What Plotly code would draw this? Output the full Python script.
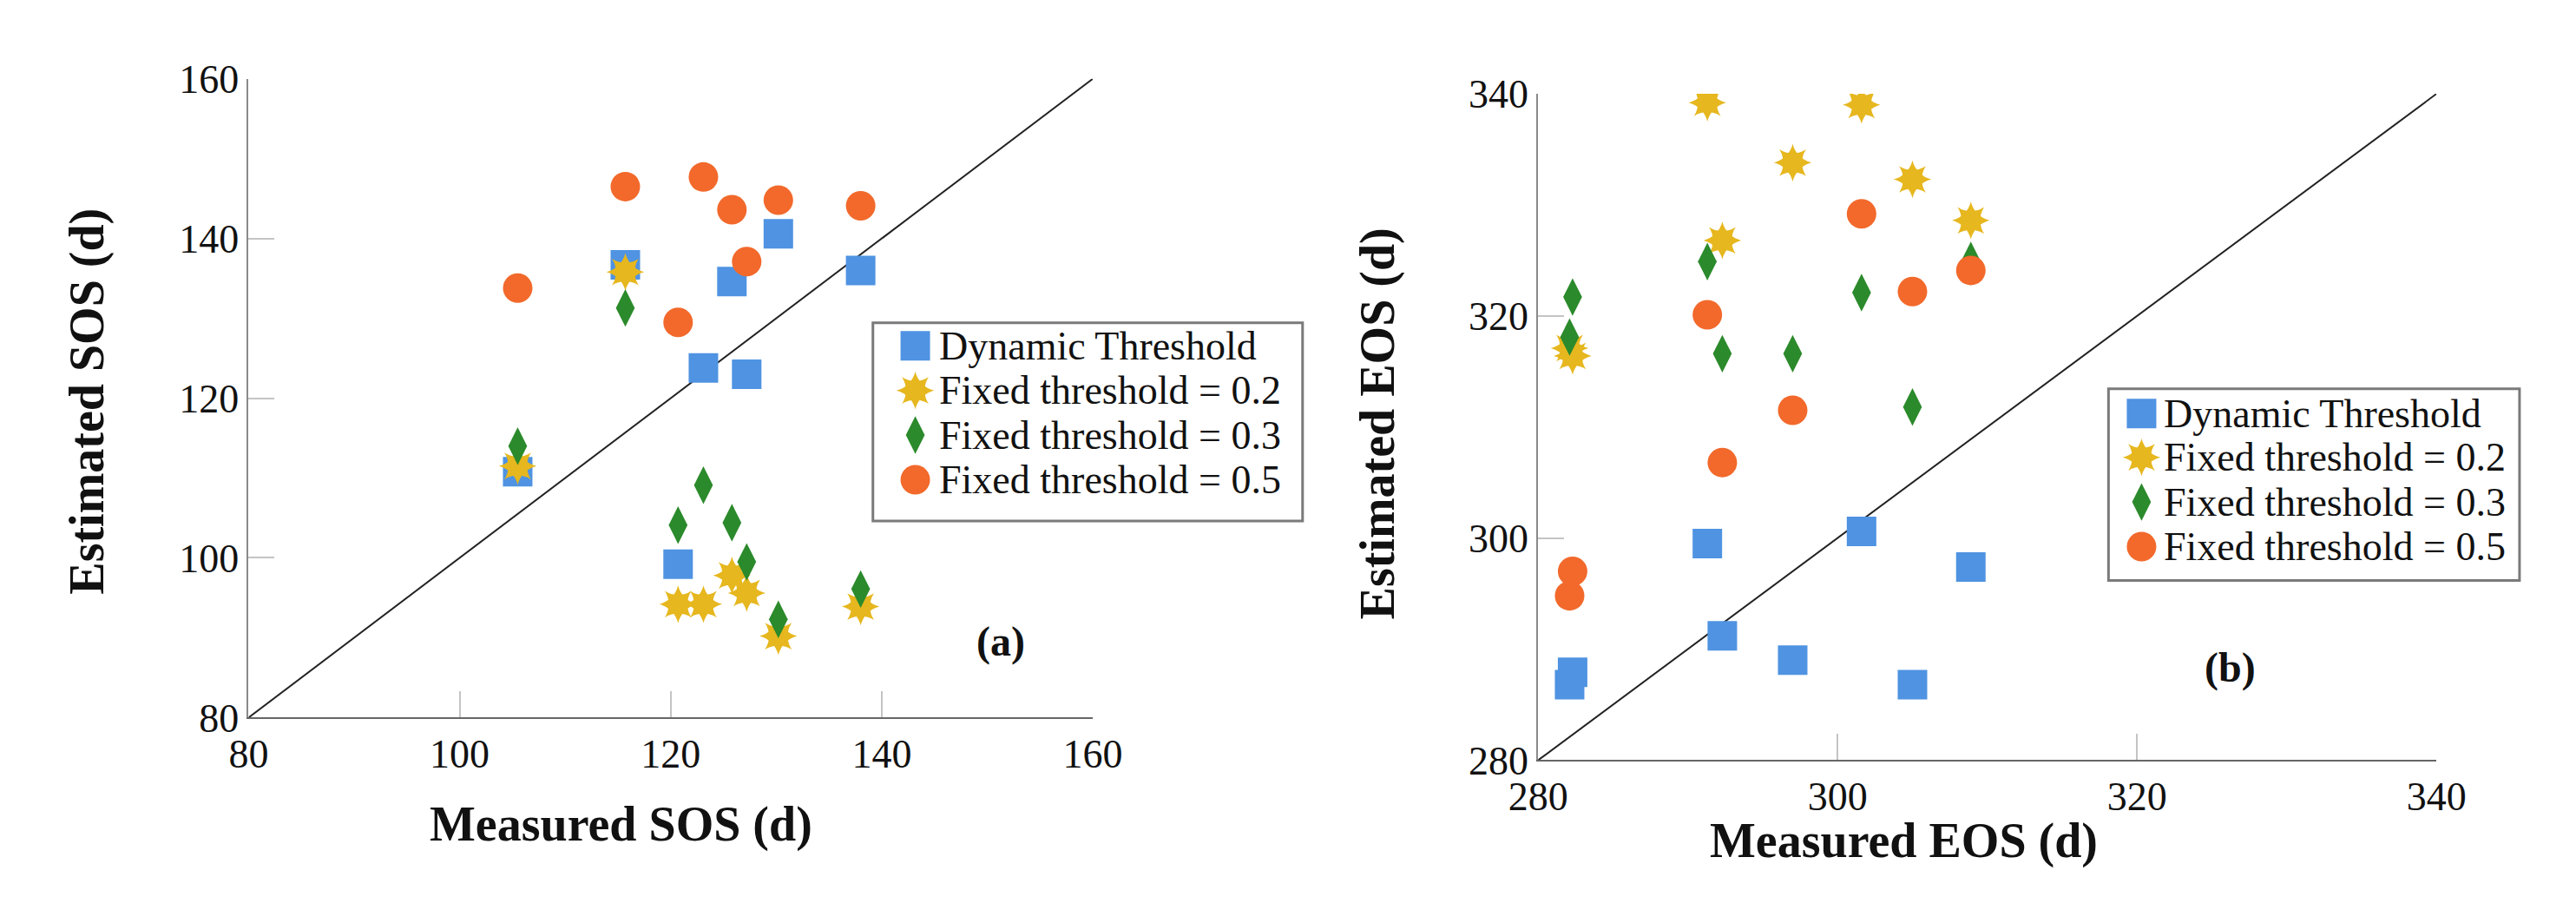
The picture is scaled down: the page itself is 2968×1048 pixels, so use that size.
import plotly.graph_objects as go

# measured dates (8 sites)
sos_measured = [105.5, 115.7, 120.7, 123.1, 125.8, 127.2, 130.2, 138.0]
sos_dynamic = [110.8, 136.7, 99.2, 123.8, 134.6, 123.0, 140.6, 136.0]
sos_fixed02 = [111.5, 135.8, 94.2, 94.2, 97.8, 95.6, 90.2, 93.9]
sos_fixed03 = [114.0, 131.3, 104.1, 109.1, 104.4, 99.5, 92.3, 96.1]
sos_fixed05 = [133.8, 146.5, 129.5, 147.7, 143.6, 137.1, 144.8, 144.1]

eos_measured = [282.1, 282.3, 291.3, 292.3, 297.0, 301.6, 305.0, 308.9]
eos_dynamic = [286.8, 287.9, 299.5, 291.2, 289.0, 300.6, 286.8, 297.4]
eos_fixed02 = [317.1, 316.4, 339.2, 326.8, 333.8, 339.0, 332.3, 328.6]
eos_fixed03 = [318.1, 321.7, 324.9, 316.6, 316.6, 322.1, 311.8, 325.0]
eos_fixed05 = [294.8, 297.0, 320.1, 306.8, 311.5, 329.2, 322.2, 324.1]

series_names = ["Dynamic Threshold", "Fixed threshold = 0.2",
                "Fixed threshold = 0.3", "Fixed threshold = 0.5"]
sos_ticks = [80, 100, 120, 140, 160]
eos_ticks = [280, 300, 320, 340]

W, H = 2968, 1048
FONT = "Liberation Serif"
colors = ["#4f93e2", "#e6b71e", "#2b8a2b", "#f2692b"]

# symbol styles per series; the 8-point star is two 4-point stars on top of each other
styles = [
    [dict(symbol="square", size=34)],
    [dict(symbol="star-diamond", size=31), dict(symbol="star-square", size=28)],
    [dict(symbol="diamond-tall", size=31)],
    [dict(symbol="circle", size=34)],
]

fig = go.Figure()


def add_series(xs, ys, color, style, xa, ya):
    for st in style:
        fig.add_trace(go.Scatter(
            x=xs, y=ys, mode="markers", xaxis=xa, yaxis=ya, showlegend=False,
            marker=dict(color=color, line=dict(width=0), **st),
            hoverinfo="x+y",
        ))


# 1:1 lines
fig.add_trace(go.Scatter(x=[sos_ticks[0], sos_ticks[-1]], y=[sos_ticks[0], sos_ticks[-1]],
                         mode="lines", line=dict(color="#222", width=2),
                         xaxis="x", yaxis="y", showlegend=False, hoverinfo="skip"))
fig.add_trace(go.Scatter(x=[eos_ticks[0], eos_ticks[-1]], y=[eos_ticks[0], eos_ticks[-1]],
                         mode="lines", line=dict(color="#222", width=2),
                         xaxis="x2", yaxis="y2", showlegend=False, hoverinfo="skip"))

for ys, c, st in zip([sos_dynamic, sos_fixed02, sos_fixed03, sos_fixed05], colors, styles):
    add_series(sos_measured, ys, c, st, "x", "y")
for ys, c, st in zip([eos_dynamic, eos_fixed02, eos_fixed03, eos_fixed05], colors, styles):
    add_series(eos_measured, ys, c, st, "x2", "y2")

shapes = []
annotations = []


# hand drawn legends (pixel coords on the x3/y3 overlay) so the icons can be big
def add_legend(box, icon_x, text_x, rows):
    shapes.append(dict(type="rect", xref="x3", yref="y3", x0=box[0], x1=box[1],
                       y0=box[2], y1=box[3], line=dict(color="#7a7a7a", width=3),
                       fillcolor="white", layer="below"))
    for name, c, st, ry in zip(series_names, colors, styles, rows):
        for s in st:
            fig.add_trace(go.Scatter(x=[icon_x], y=[ry], mode="markers", xaxis="x3", yaxis="y3",
                                     showlegend=False, hoverinfo="skip",
                                     marker=dict(color=c, line=dict(width=0), **s)))
        annotations.append(dict(text=name, xref="x3", yref="y3", x=text_x, y=ry,
                                xanchor="left", yanchor="middle", showarrow=False,
                                font=dict(family=FONT, size=46, color="#111")))


add_legend((986, 1493, 356, 596), 1036, 1062, [384, 438, 492, 546])
add_legend((2444, 2929, 436, 668), 2483, 2507, [466, 519, 573, 627])


def label(text, x, y, size=56, angle=0):
    annotations.append(dict(text="<b>" + text + "</b>", xref="x3", yref="y3", x=x, y=y,
                            xanchor="center", yanchor="middle", showarrow=False,
                            textangle=angle, font=dict(family=FONT, size=size, color="#111")))


label("Measured SOS (d)", 689, 963)
label("Estimated SOS (d)", 58, 451, angle=-90)
label("Measured EOS (d)", 2202, 983)
label("Estimated EOS (d)", 1582, 478, angle=-90)
label("(a)", 1137, 742, size=48)
label("(b)", 2588, 774, size=48)

axis_common = dict(
    ticks="inside", ticklen=30, tickwidth=2, tickcolor="#c4c4c4",
    showline=True, linewidth=2, showgrid=False, zeroline=False,
    tickfont=dict(family=FONT, size=46, color="#111"),
)

fig.update_layout(
    width=W, height=H,
    margin=dict(l=0, r=0, t=0, b=0),
    paper_bgcolor="white", plot_bgcolor="rgba(0,0,0,0)",
    showlegend=False,
    xaxis=dict(domain=[249.3 / W, 1245.5 / W], range=[80, 160], tickvals=sos_ticks,
               anchor="y", linecolor="#666", **axis_common),
    yaxis=dict(domain=[(H - 834) / H, (H - 60.7) / H], range=[80, 160], tickvals=sos_ticks,
               anchor="x", linecolor="#8a8a8a", **axis_common),
    xaxis2=dict(domain=[1771 / W, 2831 / W], range=[280, 340], tickvals=eos_ticks,
                anchor="y2", linecolor="#666", **axis_common),
    yaxis2=dict(domain=[(H - 885.5) / H, (H - 78.9) / H], range=[280, 340], tickvals=eos_ticks,
                anchor="x2", linecolor="#8a8a8a", **axis_common),
    xaxis3=dict(domain=[0, 1], range=[0, W], visible=False, anchor="y3"),
    yaxis3=dict(domain=[0, 1], range=[H, 0], visible=False, anchor="x3"),
    shapes=shapes,
    annotations=annotations,
)

fig.write_html("out.html")
